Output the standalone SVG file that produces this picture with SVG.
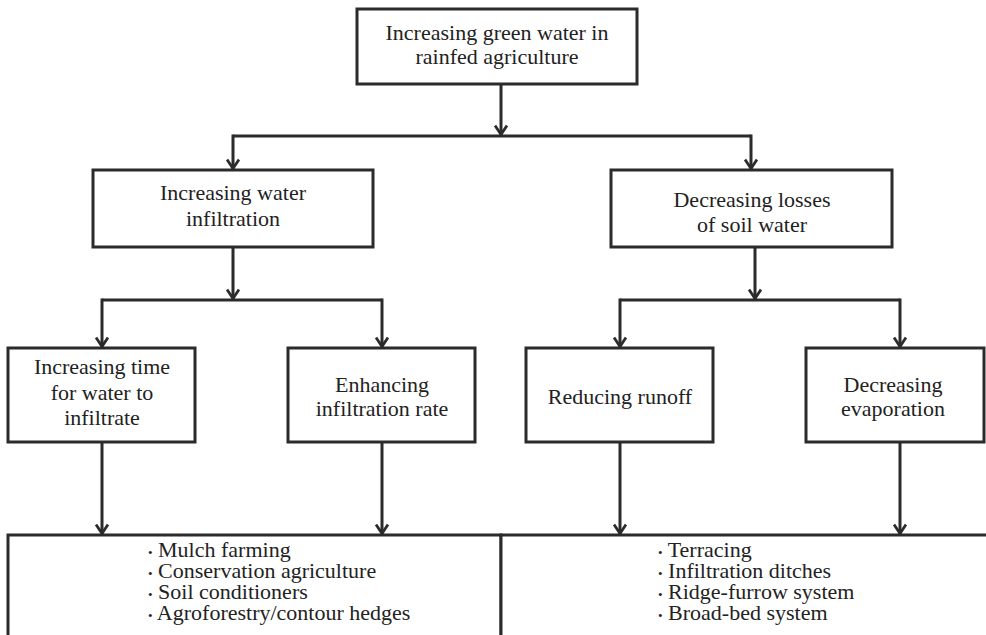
<svg xmlns="http://www.w3.org/2000/svg" width="986" height="635" viewBox="0 0 986 635">
<defs>
<style>
.box{fill:#fff;stroke:#2b2b2b;stroke-width:3}
.t{font-family:"Liberation Serif","DejaVu Serif",serif;font-size:22px;fill:#222;text-anchor:middle}
.l{font-family:"Liberation Serif","DejaVu Serif",serif;font-size:22px;fill:#222}
.b{font-size:13px}
.c{fill:none;stroke:#2b2b2b;stroke-width:3}
</style>
<marker id="arr" viewBox="0 0 14 14" refX="12.5" refY="7" markerWidth="14" markerHeight="14" markerUnits="userSpaceOnUse" orient="auto">
<path d="M3,1 L12,7 L3,13" fill="none" stroke="#2b2b2b" stroke-width="2.8"/>
</marker>
</defs>
<rect width="986" height="635" fill="#fff"/>
<g id="connectors">
<line class="c" x1="501" y1="84" x2="501" y2="135" marker-end="url(#arr)"/>
<line class="c" x1="233" y1="136" x2="751" y2="136"/>
<line class="c" x1="233" y1="134.5" x2="233" y2="169" marker-end="url(#arr)"/>
<line class="c" x1="751" y1="134.5" x2="751" y2="169" marker-end="url(#arr)"/>
<line class="c" x1="233" y1="247" x2="233" y2="299" marker-end="url(#arr)"/>
<line class="c" x1="102" y1="300" x2="382" y2="300"/>
<line class="c" x1="102" y1="298.5" x2="102" y2="347" marker-end="url(#arr)"/>
<line class="c" x1="382" y1="298.5" x2="382" y2="347" marker-end="url(#arr)"/>
<line class="c" x1="755" y1="247" x2="755" y2="299" marker-end="url(#arr)"/>
<line class="c" x1="620" y1="300" x2="900" y2="300"/>
<line class="c" x1="620" y1="298.5" x2="620" y2="347" marker-end="url(#arr)"/>
<line class="c" x1="900" y1="298.5" x2="900" y2="347" marker-end="url(#arr)"/>
<line class="c" x1="102" y1="442" x2="102" y2="534" marker-end="url(#arr)"/>
<line class="c" x1="382" y1="442" x2="382" y2="534" marker-end="url(#arr)"/>
<line class="c" x1="620" y1="442" x2="620" y2="534" marker-end="url(#arr)"/>
<line class="c" x1="900" y1="442" x2="900" y2="534" marker-end="url(#arr)"/>
</g>
<g id="n-top">
<rect class="box" x="357" y="9" width="280" height="75"/>
<text class="t" x="497" y="40">Increasing green water in</text>
<text class="t" x="497" y="64">rainfed agriculture</text>
</g>
<g id="n-infil">
<rect class="box" x="93" y="170" width="280" height="77"/>
<text class="t" x="233" y="200">Increasing water</text>
<text class="t" x="233" y="226">infiltration</text>
</g>
<g id="n-losses">
<rect class="box" x="611" y="170" width="281" height="77"/>
<text class="t" x="752" y="207">Decreasing losses</text>
<text class="t" x="752" y="232">of soil water</text>
</g>
<g id="n-time">
<rect class="box" x="8" y="348" width="187" height="94"/>
<text class="t" x="102" y="374">Increasing time</text>
<text class="t" x="102" y="400">for water to</text>
<text class="t" x="102" y="425">infiltrate</text>
</g>
<g id="n-rate">
<rect class="box" x="288" y="348" width="187" height="94"/>
<text class="t" x="382" y="392">Enhancing</text>
<text class="t" x="382" y="416">infiltration rate</text>
</g>
<g id="n-runoff">
<rect class="box" x="526" y="348" width="187" height="94"/>
<text class="t" x="620" y="404">Reducing runoff</text>
</g>
<g id="n-evap">
<rect class="box" x="806" y="348" width="178" height="94"/>
<text class="t" x="893" y="392">Decreasing</text>
<text class="t" x="893" y="416">evaporation</text>
</g>
<g id="n-left-list">
<rect class="box" x="8" y="535" width="493" height="110"/>
<text class="l"><tspan x="148" y="557"><tspan class="b">•</tspan> Mulch farming</tspan><tspan x="148" y="578"><tspan class="b">•</tspan> Conservation agriculture</tspan><tspan x="148" y="599"><tspan class="b">•</tspan> Soil conditioners</tspan><tspan x="148" y="620"><tspan class="b">•</tspan> Agroforestry/contour hedges</tspan></text>
</g>
<g id="n-right-list">
<rect class="box" x="501" y="535" width="495" height="110"/>
<text class="l"><tspan x="658" y="557"><tspan class="b">•</tspan> Terracing</tspan><tspan x="658" y="578"><tspan class="b">•</tspan> Infiltration ditches</tspan><tspan x="658" y="599"><tspan class="b">•</tspan> Ridge-furrow system</tspan><tspan x="658" y="620"><tspan class="b">•</tspan> Broad-bed system</tspan></text>
</g>
</svg>
